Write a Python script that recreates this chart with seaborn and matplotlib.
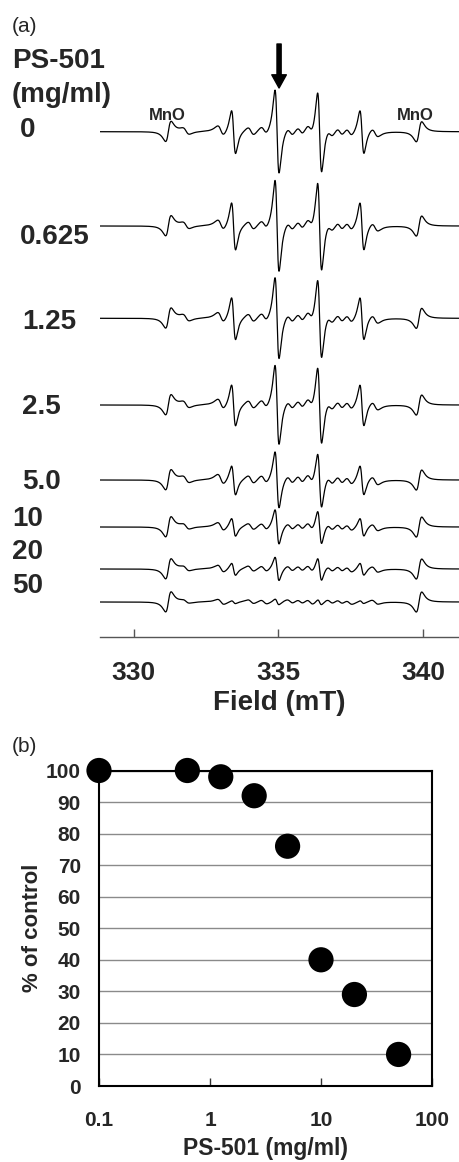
import numpy as np
import pandas as pd
import matplotlib
matplotlib.use("Agg")
import matplotlib.pyplot as plt
import seaborn as sns

# ---------------- data ----------------
# panel (a): ESR spectra, one per PS-501 concentration
conc_labels = ["0", "0.625", "1.25", "2.5", "5.0", "10", "20", "50"]
# DMPO-OH quartet line centres (mT) and relative intensities (~1:2:2:1)
oh_fields = [333.45, 334.95, 336.42, 337.88]
oh_rel = [0.52, 1.0, 0.97, 0.52]
# weaker lines of a second adduct (mT) and relative heights
minor_fields = [331.81, 333.01, 334.05, 334.50, 335.40, 335.75, 336.09,
                336.78, 337.12, 337.44, 338.33]
minor_rel = [0.6, 1.0, 0.8, 0.8, 0.8, 0.8, 1.0, 0.8, 0.8, 0.8, 0.8]
# MnO internal standard lines (mT) and height
mno_fields = [331.20, 339.85]
mno_height = [-10, -10]
# per-spectrum heights (half peak-to-peak)
oh_height = [42, 46, 41, 40, 28.5, 17.5, 12, 3]
minor_height = [5, 5, 5, 5, 5, 4, 3.5, 2.5]

# panel (b): dose response
ps_conc = [0.1, 0.625, 1.25, 2.5, 5, 10, 20, 50]
pct_control = [100, 100, 98, 92, 76, 40, 29, 10]

# ---------------- style / layout ----------------
sns.set_style("white")
plt.rcParams['font.family'] = ['Liberation Sans', 'DejaVu Sans']

W, H = 459, 1162
fig = plt.figure(figsize=(W / 100, H / 100), dpi=100)


def fx(x):
    return x / W


def fy(y):
    return 1 - y / H


# line-shape parameters (peak-to-peak widths, mT)
dpp_oh, dpp_minor, dpp_mno = 0.14, 0.22, 0.19


def dlor(x, x0, dpp):
    w = dpp * np.sqrt(3) / 2
    u = (x - x0) / w
    return -(2 * u / (1 + u ** 2) ** 2) / 0.6495


axA = fig.add_axes([fx(100), fy(637), fx(359), 597 / H])
xmin, xmax = 328.84, 341.23
axA.set_xlim(xmin, xmax)
axA.set_ylim(0, 597)
baselines = [505.3, 411, 318.7, 232, 157, 110, 68, 35]

field = np.linspace(xmin, xmax, 4000)
rows = []
for i, lab in enumerate(conc_labels):
    sig = np.zeros_like(field)
    for f0, r in zip(oh_fields, oh_rel):
        sig += oh_height[i] * r * dlor(field, f0, dpp_oh)
    for f0, r in zip(minor_fields, minor_rel):
        sig += minor_height[i] * r * dlor(field, f0, dpp_minor)
    for f0, h in zip(mno_fields, mno_height):
        sig += h * dlor(field, f0, dpp_mno)
    rows.append(pd.DataFrame({"field": field, "signal": sig + baselines[i],
                              "conc": lab}))
spec = pd.concat(rows, ignore_index=True)
sns.lineplot(data=spec, x="field", y="signal", hue="conc", units="conc",
             estimator=None, palette=["black"] * len(conc_labels),
             linewidth=0.9, legend=False, ax=axA, sort=False)

for s in ["left", "top", "right"]:
    axA.spines[s].set_visible(False)
axA.spines["bottom"].set_color("#555555")
axA.spines["bottom"].set_linewidth(1.0)
axA.set_yticks([])
axA.set_xticks([330, 335, 340])
axA.set_xticklabels(["330", "335", "340"], fontsize=19, fontweight="bold")
axA.tick_params(axis="x", bottom=True, direction="in", length=6, width=1,
                color="#555555", pad=17)
axA.set_xlabel("Field (mT)", fontsize=20, fontweight="bold", labelpad=4)
axA.set_ylabel("")

# arrow above the central line
axA.annotate("", xy=(335.02, 637 - 88), xytext=(335.02, 637 - 44),
             arrowprops=dict(facecolor="black", edgecolor="black", width=3,
                             headwidth=10.5, headlength=9.5, shrink=0))
axA.text(331.16, 521, "MnO", fontsize=12, fontweight="bold",
         ha="center", va="center")
axA.text(339.71, 521, "MnO", fontsize=12, fontweight="bold",
         ha="center", va="center")

fig.text(fx(12), fy(27), "(a)", fontsize=15, va="center", ha="left")
fig.text(fx(12), fy(61), "PS-501", fontsize=20, fontweight="bold",
         va="center", ha="left")
fig.text(fx(12), fy(95), "(mg/ml)", fontsize=20, fontweight="bold",
         va="center", ha="left")
label_pos = [(20, 130), (20, 237), (22, 322), (22, 407), (22, 482),
             (12, 519), (12, 552), (12, 586)]
for lab, (x, y) in zip(conc_labels, label_pos):
    fig.text(fx(x), fy(y), lab, fontsize=20, fontweight="bold",
             va="center", ha="left")

# ---------------- panel (b) ----------------
axB = fig.add_axes([fx(99), fy(1086), fx(333), 315.5 / H])
axB.set_xscale("log")
axB.set_xlim(0.1, 100)
axB.set_ylim(0, 100)
axB.set_yticks(range(0, 101, 10))
axB.yaxis.grid(True, color="#8a8a8a", linewidth=1.0)
axB.xaxis.grid(False)
axB.set_axisbelow(True)
sns.scatterplot(x=ps_conc, y=pct_control, s=330, color="black",
                edgecolor="none", ax=axB, clip_on=False, zorder=5)
axB.set_xticks([0.1, 1, 10, 100])
axB.set_xticklabels(["0.1", "1", "10", "100"])
axB.xaxis.set_minor_locator(matplotlib.ticker.NullLocator())
for lbl in axB.get_xticklabels() + axB.get_yticklabels():
    lbl.set_fontsize(15)
    lbl.set_fontweight("bold")
axB.tick_params(axis="x", which="major", bottom=True, direction="in",
                length=6, width=1, color="#333333", pad=18)
axB.tick_params(axis="y", length=0, pad=13)
for s in axB.spines.values():
    s.set_color("black")
    s.set_linewidth(1.5)
axB.set_xlabel("PS-501 (mg/ml)", fontsize=16.5, fontweight="bold",
               labelpad=5)
axB.set_ylabel("% of control", fontsize=16, fontweight="bold", labelpad=2)
fig.text(fx(12), fy(746), "(b)", fontsize=15, va="center", ha="left")

fig.savefig("out.png", dpi=100)
